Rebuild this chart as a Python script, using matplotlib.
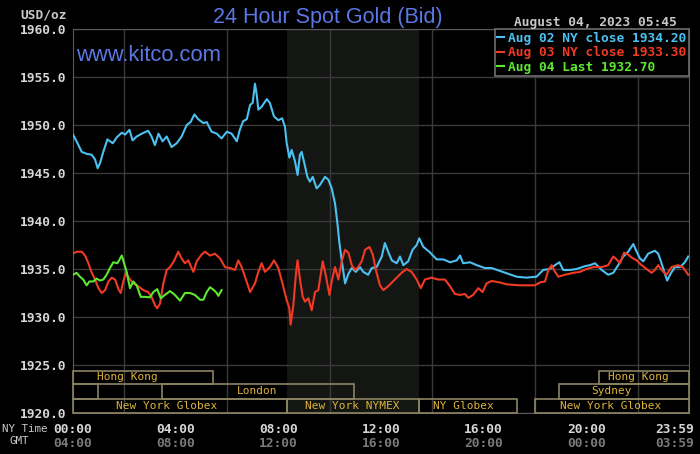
import matplotlib
matplotlib.use("Agg")
import matplotlib.pyplot as plt
import matplotlib.transforms as mtransforms
from matplotlib.patches import Rectangle

# === DATA (hours after 00:00 NY time, USD/oz) ===
aug02_hours = [0, 0.14, 0.34, 0.53, 0.73, 0.86, 0.96, 1.05, 1.18, 1.34, 1.55, 1.70, 1.90, 2.03, 2.2,
               2.32, 2.48, 2.68, 2.93, 3.06, 3.19, 3.33, 3.49, 3.65, 3.84, 4.04, 4.23, 4.43, 4.58,
               4.73, 4.88, 5.08, 5.21, 5.40, 5.6, 5.79, 5.99, 6.18, 6.38, 6.5, 6.63, 6.77, 6.9, 7.0,
               7.09, 7.16, 7.22, 7.35, 7.55, 7.67, 7.83, 8.0, 8.15, 8.26, 8.32, 8.43, 8.52, 8.65,
               8.75, 8.84, 8.91, 9.04, 9.13, 9.23, 9.34, 9.49, 9.62, 9.82, 9.95, 10.08, 10.21, 10.3,
               10.38, 10.47, 10.6, 10.73, 10.86, 11.02, 11.18, 11.31, 11.5, 11.64, 11.83, 12.03,
               12.15, 12.28, 12.42, 12.61, 12.74, 12.87, 13.06, 13.23, 13.39, 13.49, 13.65, 13.88,
               14.17, 14.43, 14.69, 14.95, 15.08, 15.2, 15.47, 15.73, 16.05, 16.31, 16.63, 16.96,
               17.28, 17.67, 18.06, 18.32, 18.58, 18.78, 18.95, 19.1, 19.36, 19.62, 19.95, 20.14,
               20.34, 20.6, 20.85, 21.05, 21.24, 21.44, 21.63, 21.83, 21.96, 22.09, 22.22, 22.41,
               22.67, 22.8, 22.93, 23.06, 23.15, 23.28, 23.45, 23.65, 23.84, 23.97]
aug02_price = [1949.0, 1948.3, 1947.2, 1947.0, 1946.9, 1946.4, 1945.5, 1946.0, 1947.2, 1948.5, 1948.1,
               1948.7, 1949.2, 1949.0, 1949.5, 1948.4, 1948.8, 1949.1, 1949.4, 1948.8, 1947.9, 1949.1,
               1948.3, 1948.8, 1947.7, 1948.1, 1948.8, 1950.0, 1950.3, 1951.1, 1950.6, 1950.2, 1950.3,
               1949.3, 1949.1, 1948.6, 1949.3, 1949.1, 1948.3, 1949.5, 1950.4, 1950.6, 1952.1, 1952.3,
               1954.3, 1953.1, 1951.6, 1951.9, 1952.7, 1952.3, 1950.9, 1950.5, 1950.7, 1949.8, 1948.2,
               1946.6, 1947.4, 1946.2, 1944.8, 1946.9, 1947.2, 1945.7, 1944.6, 1944.1, 1944.6, 1943.4,
               1943.75, 1944.6, 1944.3, 1943.4, 1941.8, 1939.8, 1937.7, 1935.9, 1933.5, 1934.5, 1935.1,
               1934.7, 1935.2, 1934.7, 1934.4, 1935.1, 1935.2, 1936.3, 1937.7, 1936.8, 1935.9, 1935.6,
               1936.3, 1935.4, 1935.8, 1937.0, 1937.5, 1938.2, 1937.3, 1936.8, 1936.0, 1936.0, 1935.7,
               1935.9, 1936.4, 1935.6, 1935.7, 1935.4, 1935.1, 1935.1, 1934.8, 1934.5, 1934.2, 1934.1,
               1934.2, 1934.9, 1935.0, 1935.4, 1935.7, 1934.9, 1934.9, 1935.0, 1935.3, 1935.4, 1935.6,
               1934.9, 1934.4, 1934.6, 1935.4, 1936.3, 1936.8, 1937.6, 1936.8, 1936.1, 1935.8, 1936.6,
               1936.9, 1936.6, 1935.6, 1934.5, 1933.8, 1934.5, 1935.2, 1935.2, 1935.7, 1936.3]

aug03_hours = [0, 0.14, 0.34, 0.47, 0.6, 0.73, 0.86, 0.99, 1.12, 1.25, 1.38, 1.51, 1.64, 1.77, 1.86,
               1.96, 2.06, 2.2, 2.35, 2.54, 2.74, 2.93, 3.06, 3.19, 3.28, 3.39, 3.52, 3.65, 3.78, 3.93,
               4.1, 4.23, 4.36, 4.49, 4.69, 4.82, 5.01, 5.14, 5.34, 5.53, 5.73, 5.92, 6.12, 6.31, 6.44,
               6.57, 6.7, 6.9, 7.09, 7.22, 7.35, 7.48, 7.67, 7.83, 8.0, 8.19, 8.32, 8.43, 8.48, 8.58,
               8.69, 8.75, 8.84, 8.95, 9.04, 9.17, 9.3, 9.43, 9.56, 9.62, 9.73, 9.86, 9.99, 10.08,
               10.21, 10.34, 10.47, 10.6, 10.73, 10.86, 10.99, 11.11, 11.25, 11.38, 11.55, 11.68, 11.8,
               11.96, 12.09, 12.28, 12.54, 12.8, 13.0, 13.19, 13.39, 13.55, 13.71, 13.97, 14.23, 14.49,
               14.69, 14.88, 15.08, 15.27, 15.4, 15.59, 15.79, 15.96, 16.11, 16.31, 16.63, 16.89,
               17.41, 18.0, 18.19, 18.39, 18.52, 18.65, 18.78, 18.91, 19.17, 19.49, 19.75, 20.01,
               20.27, 20.6, 20.85, 21.05, 21.18, 21.31, 21.47, 21.63, 21.76, 21.96, 22.15, 22.35,
               22.54, 22.67, 22.8, 22.93, 23.12, 23.32, 23.57, 23.76, 23.97]
aug03_price = [1936.6, 1936.8, 1936.8, 1936.4, 1935.6, 1934.6, 1933.9, 1933.0, 1932.5, 1932.8, 1933.7,
               1934.1, 1933.9, 1932.9, 1932.5, 1933.7, 1934.6, 1934.0, 1933.5, 1933.2, 1932.8, 1932.6,
               1932.1, 1931.25, 1930.9, 1931.4, 1933.5, 1934.9, 1935.2, 1935.8, 1936.8, 1936.1, 1935.6,
               1935.9, 1934.7, 1935.8, 1936.5, 1936.8, 1936.4, 1936.6, 1936.1, 1935.2, 1935.1, 1934.9,
               1935.9, 1935.2, 1934.2, 1932.6, 1933.5, 1934.7, 1935.6, 1934.7, 1935.2, 1935.9, 1935.1,
               1933.2, 1931.8, 1930.9, 1929.2, 1931.1, 1934.6, 1935.9, 1934.0, 1932.1, 1931.6, 1931.95,
               1930.7, 1932.6, 1932.8, 1933.9, 1935.8, 1934.2, 1932.3, 1933.7, 1935.2, 1933.9, 1935.8,
               1937.0, 1936.7, 1935.4, 1934.9, 1935.2, 1935.8, 1937.0, 1937.3, 1936.5, 1934.9, 1933.3,
               1932.8, 1933.2, 1933.9, 1934.6, 1935.0, 1934.7, 1933.9, 1933.0, 1933.9, 1934.1, 1933.9,
               1933.9, 1933.2, 1932.4, 1932.3, 1932.4, 1932.0, 1932.3, 1933.0, 1932.6, 1933.5, 1933.75,
               1933.6, 1933.4, 1933.3, 1933.3, 1933.6, 1933.7, 1934.9, 1935.4, 1934.7, 1934.2, 1934.4,
               1934.6, 1934.7, 1935.0, 1935.2, 1935.2, 1935.4, 1936.3, 1936.0, 1935.6, 1936.7, 1936.5,
               1936.2, 1935.9, 1935.4, 1935.0, 1934.6, 1934.9, 1935.4, 1934.9, 1934.4, 1935.2, 1935.4,
               1935.2, 1934.4]

aug04_hours = [0, 0.14, 0.27, 0.4, 0.53, 0.64, 0.79, 0.92, 1.05, 1.18, 1.31, 1.44, 1.57, 1.73, 1.9,
               1.99, 2.09, 2.22, 2.35, 2.48, 2.64, 2.8, 3.0, 3.13, 3.28, 3.42, 3.58, 3.78, 3.97, 4.17,
               4.36, 4.56, 4.75, 4.95, 5.08, 5.21, 5.34, 5.49, 5.6, 5.66, 5.79]
aug04_price = [1934.4, 1934.6, 1934.2, 1933.9, 1933.3, 1933.7, 1933.7, 1934.0, 1933.8, 1933.9, 1934.4,
               1935.1, 1935.7, 1935.6, 1936.4, 1935.6, 1934.7, 1933.0, 1933.7, 1933.3, 1932.1, 1932.1,
               1932.05, 1932.6, 1932.9, 1931.95, 1932.3, 1932.7, 1932.3, 1931.7, 1932.5, 1932.5,
               1932.3, 1931.8, 1931.8, 1932.6, 1933.1, 1932.8, 1932.5, 1932.2, 1932.8]

series_labels = ["Aug 02 NY close 1934.20", "Aug 03 NY close 1933.30", "Aug 04 Last 1932.70"]

# trading sessions: (row, start hour, end hour, label, label hour)
sessions = [
    (0, 0.0, 5.45, "Hong Kong", 2.1),
    (0, 20.5, 24.0, "Hong Kong", 22.03),
    (1, 0.0, 0.96, "", 0),
    (1, 3.48, 10.95, "London", 7.17),
    (1, 18.93, 24.0, "Sydney", 20.98),
    (2, 0.0, 8.33, "New York Globex", 3.66),
    (2, 8.33, 13.5, "New York NYMEX", 10.87),
    (2, 13.5, 17.3, "NY Globex", 15.2),
    (2, 18.0, 24.0, "New York Globex", 20.96),
]
row_bounds = [(1923.02, 1924.41), (1921.46, 1923.02), (1920.0, 1921.46)]

ny_ticks = [0, 4, 8, 12, 16, 20, 24]
ny_labels = ["00:00", "04:00", "08:00", "12:00", "16:00", "20:00", "23:59"]
gmt_labels = ["04:00", "08:00", "12:00", "16:00", "20:00", "00:00", "03:59"]

# === STYLE ===
MONO = "DejaVu Sans Mono"
BLUE, RED, GREEN = "#4cc0f0", "#f03a24", "#5ce830"
GRID = "#3a3a3a"

fig = plt.figure(figsize=(7, 4.54), dpi=100, facecolor="black")
ax = fig.add_axes([73 / 700, 41 / 454, 616 / 700, 384 / 454])
ax.set_facecolor("black")

# NYMEX shading
ax.axvspan(8.33, 13.5, color="#131613", zorder=0, lw=0)

ax.plot(aug02_hours, aug02_price, color=BLUE, lw=1.5, label=series_labels[0], zorder=3)
ax.plot(aug03_hours, aug03_price, color=RED, lw=1.5, label=series_labels[1], zorder=3)
ax.plot(aug04_hours, aug04_price, color=GREEN, lw=1.5, label=series_labels[2], zorder=3)

ax.set_xlim(0, 24)
ax.set_ylim(1920, 1960)
ax.set_yticks(range(1920, 1961, 5))
ax.set_yticklabels([f"{v:.1f}" for v in range(1920, 1961, 5)])
ax.set_xticks(range(0, 25, 2), minor=True)
ax.set_xticks(ny_ticks)
ax.set_xticklabels(ny_labels)
ax.grid(True, which="minor", axis="x", color=GRID, lw=1, zorder=1)
ax.grid(True, which="major", axis="y", color=GRID, lw=1, zorder=1)
ax.tick_params(which="both", length=0, colors="#d6d6d6", labelsize=9.3)
ax.tick_params(axis="x", pad=7)
ax.tick_params(axis="y", pad=5)
for lab in ax.get_xticklabels() + ax.get_yticklabels():
    lab.set_family(MONO)
    lab.set_weight("bold")
last = ax.get_xticklabels()[-1]
last.set_transform(last.get_transform() + mtransforms.ScaledTranslation(-0.14, 0, fig.dpi_scale_trans))
for sp in ax.spines.values():
    sp.set_color("#5a5a5a")

# GMT row
trans = mtransforms.blended_transform_factory(ax.transData, ax.transAxes)
for h, lab in zip(ny_ticks, gmt_labels):
    hx = h - 0.55 if h == 24 else h
    ax.text(hx, -0.062, lab, transform=trans, ha="center", va="top", color="#7a7a7a",
            fontsize=9.3, family=MONO, weight="bold", clip_on=False)

# sessions
for row, start, end, label, lx in sessions:
    y0, y1 = row_bounds[row]
    ax.add_patch(Rectangle((start, y0), end - start, y1 - y0, fill=False,
                           edgecolor="#8c8462", lw=1.2, zorder=4, clip_on=False))
    if label:
        ax.text(lx, (y0 + y1) / 2, label, ha="center", va="center", color="#dcb43a",
                fontsize=8, family=MONO, zorder=5)

leg = ax.legend(loc="upper right", borderaxespad=0, fancybox=False, framealpha=1,
                facecolor="black", edgecolor="#6e6e6e", labelcolor="linecolor",
                prop={"family": MONO, "weight": "bold", "size": 9.3},
                handlelength=0.5, handletextpad=0.35, borderpad=0.2, labelspacing=0.12)
leg.get_frame().set_linewidth(1.2)
leg.set_zorder(6)

# header texts
fig.text(328 / 700, 1 - 23 / 454, "24 Hour Spot Gold (Bid)", ha="center", va="baseline",
         color="#5b78e6", fontsize=15.5, family="Liberation Sans")
fig.text(76 / 700, 1 - 61 / 454, "www.kitco.com", ha="left", va="baseline",
         color="#5b78e6", fontsize=15.8, family="Liberation Sans")
fig.text(677 / 700, 1 - 26 / 454, "August 04, 2023 05:45", ha="right", va="baseline",
         color="#c8c8c8", fontsize=9.3, family=MONO, weight="bold")
fig.text(67 / 700, 1 - 18 / 454, "USD/oz", ha="right", va="baseline",
         color="#c8c8c8", fontsize=9.3, family=MONO, weight="bold")
fig.text(2 / 700, 1 - 432 / 454, "NY Time", ha="left", va="baseline",
         color="#c8c8c8", fontsize=7.8, family=MONO)
fig.text(10 / 700, 1 - 444 / 454, "GMT", ha="left", va="baseline",
         color="#c8c8c8", fontsize=7.8, family=MONO)

fig.savefig("out.png", dpi=100, facecolor="black")
